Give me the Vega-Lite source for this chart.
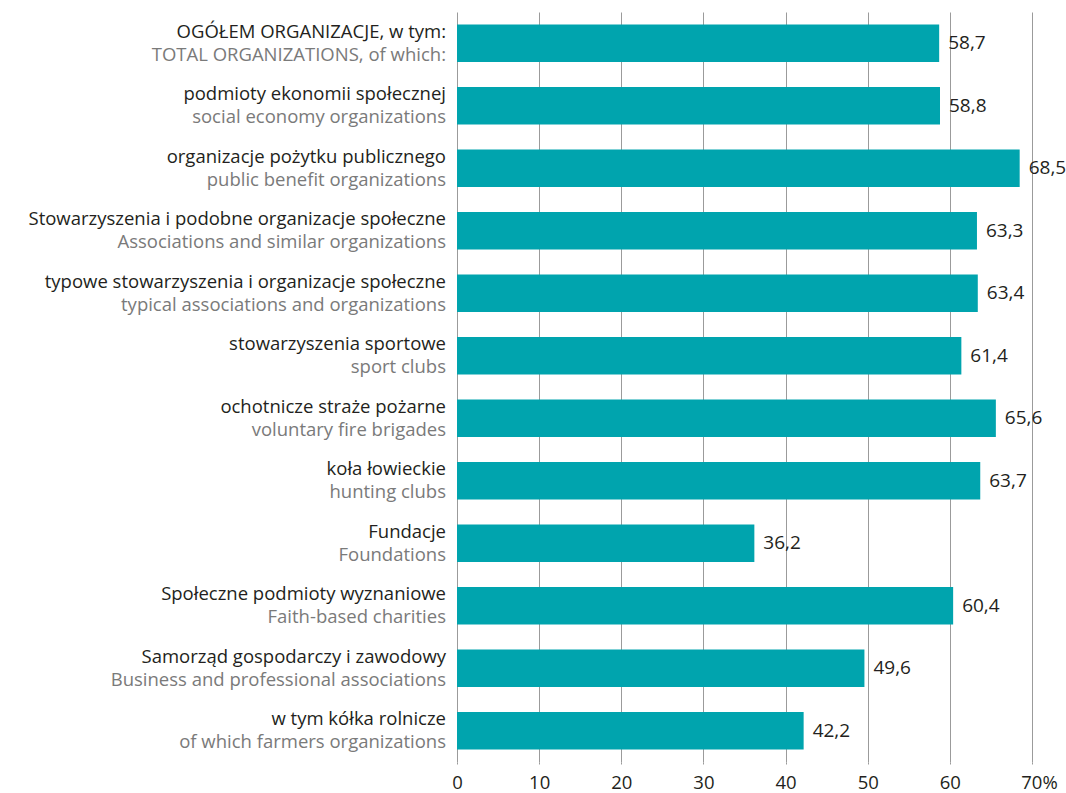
{
  "$schema": "https://vega.github.io/schema/vega-lite/v6.json",
  "width": 575,
  "height": 750,
  "autosize": {"type": "none"},
  "padding": {"left": 457, "top": 12, "right": 34, "bottom": 31},
  "background": "white",
  "config": {
    "view": {"stroke": null},
    "font": "Open Sans",
    "locale": {"number": {"decimal": ",", "thousands": " ", "grouping": [3], "currency": ["", ""]}}
  },
  "data": {
    "values": [
      {"pl": "OGÓŁEM ORGANIZACJE, w tym:", "en": "TOTAL ORGANIZATIONS, of which:", "value": 58.7},
      {"pl": "podmioty ekonomii społecznej", "en": "social economy organizations", "value": 58.8},
      {"pl": "organizacje pożytku publicznego", "en": "public benefit organizations", "value": 68.5},
      {"pl": "Stowarzyszenia i podobne organizacje społeczne", "en": "Associations and similar organizations", "value": 63.3},
      {"pl": "typowe stowarzyszenia i  organizacje społeczne", "en": "typical associations and organizations", "value": 63.4},
      {"pl": "stowarzyszenia sportowe", "en": "sport clubs", "value": 61.4},
      {"pl": "ochotnicze straże pożarne", "en": "voluntary fire brigades", "value": 65.6},
      {"pl": "koła łowieckie", "en": "hunting clubs", "value": 63.7},
      {"pl": "Fundacje", "en": "Foundations", "value": 36.2},
      {"pl": "Społeczne podmioty wyznaniowe", "en": "Faith-based charities", "value": 60.4},
      {"pl": "Samorząd gospodarczy i zawodowy", "en": "Business and professional associations", "value": 49.6},
      {"pl": "w tym kółka rolnicze", "en": "of which farmers organizations", "value": 42.2}
    ]
  },
  "encoding": {
    "y": {
      "field": "pl",
      "type": "nominal",
      "sort": null,
      "scale": {"paddingInner": 0.4, "paddingOuter": 0.2},
      "axis": null
    }
  },
  "layer": [
    {
      "mark": {"type": "bar", "color": "#00A4AE"},
      "encoding": {
        "x": {
          "field": "value",
          "type": "quantitative",
          "scale": {"domain": [0, 70], "nice": false},
          "axis": {
            "values": [0, 10, 20, 30, 40, 50, 60, 70],
            "title": null,
            "domain": false,
            "grid": true,
            "gridColor": "#9b9b9b",
            "gridWidth": 1,
            "ticks": true,
            "tickSize": 2,
            "tickColor": "#9b9b9b",
            "labelFontSize": 18.5,
            "labelColor": "#231f20",
            "labelPadding": 9,
            "labelFlush": false,
            "labelFont": "Open Sans",
            "labelOffset": {"condition": {"test": "datum.value == 70", "value": 7}, "value": 0},
            "labelExpr": "datum.value == 70 ? '70%' : datum.label"
          }
        }
      }
    },
    {
      "mark": {"type": "text", "align": "left", "baseline": "middle", "dx": 9, "fontSize": 19, "color": "#231f20"},
      "encoding": {
        "x": {"field": "value", "type": "quantitative"},
        "text": {"field": "value", "type": "quantitative", "format": ".1f"}
      }
    },
    {
      "mark": {"type": "text", "align": "right", "baseline": "middle", "dx": -11, "dy": -11.5, "fontSize": 18.5, "color": "#231f20"},
      "encoding": {
        "x": {"datum": 0},
        "text": {"field": "pl"}
      }
    },
    {
      "mark": {"type": "text", "align": "right", "baseline": "middle", "dx": -11, "dy": 11.5, "fontSize": 18.5, "color": "#7a7a7a"},
      "encoding": {
        "x": {"datum": 0},
        "text": {"field": "en"}
      }
    }
  ]
}
